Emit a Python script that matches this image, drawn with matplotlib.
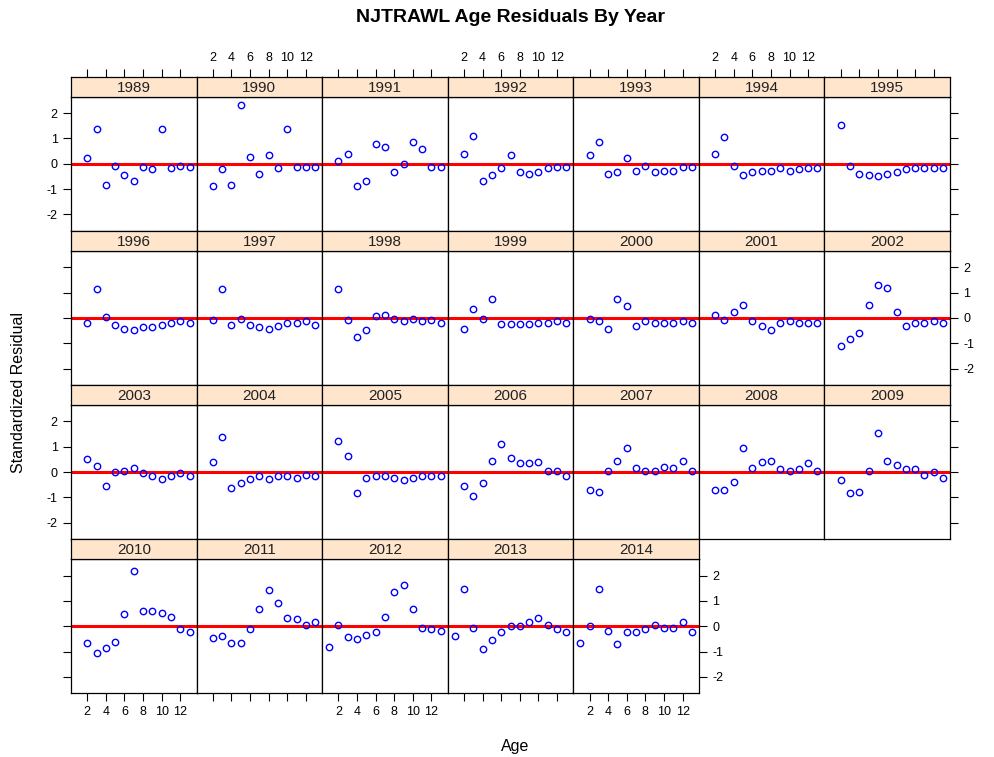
import numpy as np
import matplotlib.pyplot as plt

plt.rcParams['font.family'] = ['Liberation Sans', 'DejaVu Sans']
plt.rcParams['axes.unicode_minus'] = False

years = list(range(1989, 2015))
ages = np.arange(2, 14)      # most years: ages 2-13
ages_1 = np.arange(1, 14)    # 2012-2014 include age 1
xticks = [2, 4, 6, 8, 10, 12]
yticks = [-2, -1, 0, 1, 2]

# standardized residuals
r1989 = [0.21, 1.38, -0.84, -0.07, -0.45, -0.67, -0.12, -0.22, 1.38, -0.17, -0.07, -0.12]
r1990 = [-0.89, -0.22, -0.84, 2.33, 0.26, -0.39, 0.33, -0.17, 1.38, -0.12, -0.12, -0.12]
r1991 = [0.10, 0.38, -0.89, -0.67, 0.78, 0.66, -0.34, 0.00, 0.88, 0.60, -0.12, -0.12]
r1992 = [0.38, 1.10, -0.67, -0.45, -0.17, 0.33, -0.34, -0.39, -0.34, -0.17, -0.12, -0.12]
r1993 = [0.33, 0.88, -0.39, -0.34, 0.21, -0.28, -0.07, -0.34, -0.29, -0.29, -0.12, -0.12]
r1994 = [0.38, 1.04, -0.07, -0.45, -0.34, -0.28, -0.28, -0.17, -0.28, -0.22, -0.17, -0.17]
r1995 = [1.55, -0.07, -0.39, -0.45, -0.50, -0.39, -0.34, -0.22, -0.17, -0.17, -0.17, -0.17]
r1996 = [-0.20, 1.13, 0.03, -0.26, -0.42, -0.49, -0.37, -0.37, -0.26, -0.20, -0.14, -0.20]
r1997 = [-0.09, 1.13, -0.26, -0.03, -0.26, -0.37, -0.42, -0.32, -0.21, -0.21, -0.14, -0.26]
r1998 = [1.13, -0.09, -0.76, -0.47, 0.08, 0.13, -0.03, -0.14, -0.03, -0.14, -0.09, -0.21]
r1999 = [-0.42, 0.36, -0.03, 0.75, -0.25, -0.25, -0.25, -0.25, -0.20, -0.20, -0.14, -0.20]
r2000 = [-0.03, -0.14, -0.42, 0.75, 0.46, -0.32, -0.14, -0.20, -0.20, -0.20, -0.14, -0.20]
r2001 = [0.13, -0.09, 0.25, 0.53, -0.14, -0.32, -0.47, -0.20, -0.14, -0.20, -0.20, -0.20]
r2002 = [-1.09, -0.82, -0.59, 0.53, 1.30, 1.20, 0.25, -0.32, -0.20, -0.20, -0.14, -0.20]
r2003 = [0.50, 0.24, -0.55, 0.00, 0.05, 0.17, -0.05, -0.17, -0.28, -0.17, -0.05, -0.17]
r2004 = [0.39, 1.38, -0.62, -0.45, -0.28, -0.17, -0.28, -0.17, -0.17, -0.22, -0.12, -0.17]
r2005 = [1.22, 0.62, -0.83, -0.22, -0.17, -0.17, -0.22, -0.33, -0.22, -0.17, -0.17, -0.17]
r2006 = [-0.55, -0.95, -0.45, 0.45, 1.12, 0.55, 0.34, 0.34, 0.39, 0.05, 0.05, -0.17]
r2007 = [-0.72, -0.78, 0.05, 0.45, 0.95, 0.17, 0.05, 0.05, 0.22, 0.17, 0.45, 0.05]
r2008 = [-0.72, -0.72, -0.39, 0.95, 0.17, 0.39, 0.45, 0.12, 0.05, 0.12, 0.34, 0.05]
r2009 = [-0.33, -0.83, -0.78, 0.05, 1.55, 0.45, 0.28, 0.12, 0.12, -0.12, 0.00, -0.22]
r2010 = [-0.67, -1.05, -0.88, -0.61, 0.48, 2.18, 0.60, 0.60, 0.53, 0.38, -0.12, -0.23]
r2011 = [-0.45, -0.39, -0.66, -0.66, -0.12, 0.70, 1.42, 0.92, 0.32, 0.27, 0.05, 0.16]
r2012 = [-0.83, 0.05, -0.44, -0.49, -0.34, -0.22, 0.38, 1.36, 1.64, 0.70, -0.06, -0.12, -0.17]
r2013 = [-0.39, 1.48, -0.07, -0.89, -0.56, -0.22, 0.00, 0.00, 0.16, 0.33, 0.05, -0.12, -0.22]
r2014 = [-0.67, 0.00, 1.48, -0.17, -0.72, -0.22, -0.22, -0.12, 0.05, -0.07, -0.07, 0.16, -0.22]

resid = [r1989, r1990, r1991, r1992, r1993, r1994, r1995,
         r1996, r1997, r1998, r1999, r2000, r2001, r2002,
         r2003, r2004, r2005, r2006, r2007, r2008, r2009,
         r2010, r2011, r2012, r2013, r2014]

W, H = 994, 757
fig = plt.figure(figsize=(W / 100, H / 100), dpi=100)

# panel grid in pixels
left, right = 71, 950
top, bottom = 76.7, 693.3
ncol, nrow = 7, 4
cw = (right - left) / ncol
rh = (bottom - top) / nrow
sh = 20  # strip height

tick_kw = dict(direction='out', length=6, width=0.8, labelsize=9, colors='black')
last = len(years) - 1

for k, yr in enumerate(years):
    row, col = divmod(k, ncol)
    x0 = left + col * cw
    yt = top + row * rh
    ax = fig.add_axes([x0 / W, 1 - (yt + rh) / H, cw / W, (rh - sh) / H])
    sax = fig.add_axes([x0 / W, 1 - (yt + sh) / H, cw / W, sh / H])

    a = ages_1 if len(resid[k]) == 13 else ages
    ax.axhline(0, color='red', lw=2.2, zorder=1)
    ax.plot(a, resid[k], 'o', mfc='none', mec='blue', ms=4.6, mew=1.0, zorder=2)
    ax.set_xlim(0.25, 13.75)
    ax.set_ylim(-2.65, 2.65)
    ax.set_xticks(xticks)
    ax.set_yticks(yticks)
    for s in ax.spines.values():
        s.set_linewidth(0.9)

    # strip
    sax.set_facecolor('#ffe5cc')
    sax.set_xlim(0.25, 13.75)
    sax.set_ylim(0, 1)
    sax.text(0.5, 0.45, str(yr), transform=sax.transAxes, ha='center', va='center',
             fontsize=11, color='#222222')
    sax.set_yticks([])
    sax.set_xticks(xticks)
    for s in sax.spines.values():
        s.set_linewidth(0.9)

    is_last_in_row = (col == ncol - 1) or (k == last)
    ax.tick_params(axis='y', which='both', **tick_kw,
                   left=(col == 0), labelleft=(col == 0 and row in (0, 2)),
                   right=is_last_in_row, labelright=(is_last_in_row and row in (1, 3)))
    ax.tick_params(axis='x', which='both', **tick_kw, top=False, labeltop=False,
                   bottom=(row == nrow - 1), labelbottom=(row == nrow - 1 and col in (0, 2, 4)))
    sax.tick_params(axis='x', which='both', **tick_kw, bottom=False, labelbottom=False,
                    top=(row == 0), labeltop=(row == 0 and col in (1, 3, 5)))

fig.text(510 / W, 1 - 18 / H, 'NJTRAWL Age Residuals By Year', ha='center', va='center',
         fontsize=14, fontweight='bold')
fig.text(515 / W, 1 - 746 / H, 'Age', ha='center', va='center', fontsize=11.5)
fig.text(19 / W, 1 - 393 / H, 'Standardized Residual', ha='center', va='center',
         rotation=90, fontsize=11.5)

fig.savefig('out.png', dpi=100)
